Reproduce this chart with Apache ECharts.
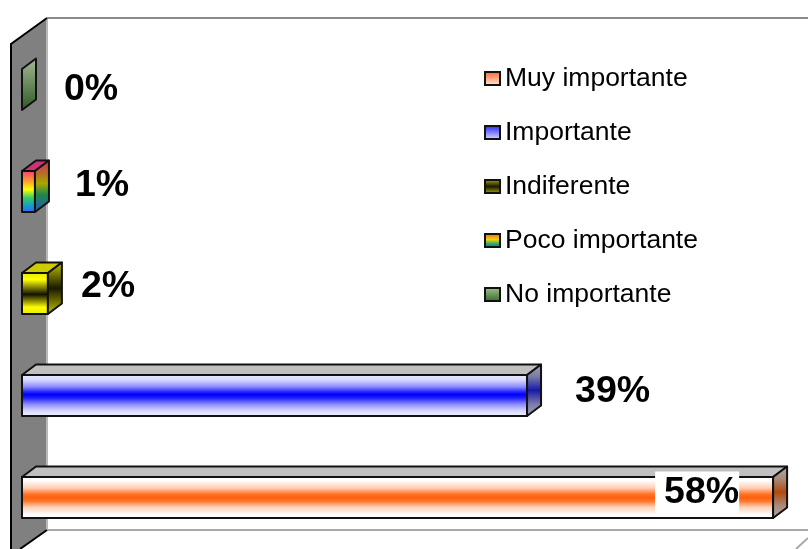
<!DOCTYPE html>
<html><head><meta charset="utf-8">
<style>html,body{margin:0;padding:0;background:#fff}#c{width:808px;height:549px}</style>
<script src="https://cdn.jsdelivr.net/npm/echarts@6/dist/echarts.min.js"></script>
</head><body><div id="c"></div>
<script>
const categories = ['Muy importante','Importante','Indiferente','Poco importante','No importante'];
const values = [58,39,2,1,0];
const valueLabels = ['58%','39%','2%','1%','0%'];

const FONT = '"Liberation Sans", Arial, sans-serif';
const DX = 14, DY = -10.5, BAR_H = 41;
const v = (stops) => new echarts.graphic.LinearGradient(0,0,0,1,stops.map(s=>({offset:s[0],color:s[1]})));
const front = [
  v([[0,'#ffffff'],[0.1,'#ffffff'],[0.28,'#ffcfb4'],[0.42,'#ff7428'],[0.5,'#ff6010'],[0.58,'#ff7428'],[0.72,'#ffcfb4'],[0.9,'#ffffff'],[1,'#ffffff']]),
  v([[0,'#eeeeff'],[0.14,'#d8d8ff'],[0.3,'#8a8aff'],[0.42,'#2020ff'],[0.48,'#0000ff'],[0.56,'#2020ff'],[0.7,'#8a8aff'],[0.86,'#d8d8ff'],[1,'#f4f4ff']]),
  v([[0,'#e8e800'],[0.18,'#ffff00'],[0.52,'#111100'],[0.82,'#ffff00'],[1,'#e8e800']]),
  v([[0,'#ff3377'],[0.25,'#ff9933'],[0.45,'#ffff00'],[0.65,'#33cc66'],[0.85,'#1199cc'],[1,'#3366ff']]),
  v([[0,'#a8b898'],[1,'#2a5a20']])
];
const side = [
  v([[0,'#b0aca8'],[0.25,'#aa8a78'],[0.5,'#b04a10'],[0.75,'#aa8a78'],[1,'#b0aca8']]),
  v([[0,'#a8a8b4'],[0.25,'#7878a8'],[0.5,'#1818a8'],[0.75,'#7878a8'],[1,'#a8a8b4']]),
  v([[0,'#c8c800'],[0.5,'#1a1a00'],[1,'#c8c800']]),
  v([[0,'#cc2a60'],[0.25,'#b86a28'],[0.45,'#a8a800'],[0.65,'#228844'],[1,'#2255cc']]),
  v([[0,'#a8b898'],[1,'#2a5a20']])
];
const legendFill = [
  v([[0,'#ff6020'],[1,'#ffeee4']]),
  v([[0,'#2020ff'],[1,'#e0e0ff']]),
  v([[0,'#b0b000'],[0.5,'#1a1a00'],[1,'#b0b000']]),
  v([[0,'#ff5030'],[0.45,'#e8d800'],[0.75,'#20a080'],[1,'#2060e0']]),
  v([[0,'#a8c090'],[1,'#2f6a28']])
];
const topFill = ['#c0c0c0','#c0c0c0','#cccc00','#cc3377','#a8b898'];
const labelOffset = [[-118,-5],[48,-4],[33,-7],[40,-6],[42,0]];
const labelBg = ['#ffffff',null,null,null,null];

function renderBar(idx){
  return function(params, api){
    const base = api.coord([0, api.value(1)]);
    const end = api.coord([api.value(0), api.value(1)]);
    const x0 = base[0], x1 = end[0], yc = end[1];
    const t = yc - BAR_H/2, b = yc + BAR_H/2;
    const line = {stroke:'#111111', lineWidth:2, lineJoin:'round'};
    const kids = [];
    const poly = (pts, fill) => ({type:'polygon', shape:{points:pts}, style:Object.assign({fill}, line)});
    if (x1 > x0) {
      kids.push(poly([[x0,t],[x0+DX,t+DY],[x1+DX,t+DY],[x1,t]], topFill[idx]));
      kids.push({type:'rect', shape:{x:x0,y:t,width:x1-x0,height:BAR_H}, style:Object.assign({fill:front[idx]}, line)});
    }
    kids.push(poly([[x1,t],[x1+DX,t+DY],[x1+DX,b+DY],[x1,b]], side[idx]));
    const off = labelOffset[idx];
    const textStyle = {
      text: valueLabels[idx], x: x1+off[0], y: yc+off[1], align:'left', verticalAlign:'middle',
      font: 'bold 37.5px '+FONT, fill:'#000000'
    };
    if (labelBg[idx]) { textStyle.backgroundColor = labelBg[idx]; textStyle.padding = [3,0,0,9]; textStyle.lineHeight = 39; }
    kids.push({type:'text', z2:10, style:textStyle});
    return {type:'group', children:kids};
  };
}

const chart = echarts.init(document.getElementById('c'), null, {renderer:'canvas'});
chart.setOption({
  animation:false,
  backgroundColor:'#ffffff',
  grid:{left:22,right:9,top:38.5,bottom:0.5},
  xAxis:{type:'value',min:0,max:60,show:false},
  yAxis:{type:'category',data:categories,show:false},
  legend:{
    orient:'vertical', left:484, top:65, padding:0, itemGap:27, itemWidth:15, itemHeight:13, icon:'rect',
    selectedMode:false,
    data:categories,
    textStyle:{fontFamily:FONT,fontSize:26.5,color:'#000000'},
    itemStyle:{borderColor:'#111111',borderWidth:2}
  },
  graphic:[
    {type:'polyline',z:0,shape:{points:[[47,18],[808,18]]},style:{stroke:'#8a8a8a',lineWidth:2,fill:null}},
    {type:'polyline',z:0,shape:{points:[[47,530],[808,530]]},style:{stroke:'#a8a8a8',lineWidth:2,fill:null}},
    {type:'polyline',z:0,shape:{points:[[796,549],[808,538]]},style:{stroke:'#a8a8a8',lineWidth:2,fill:null}},
    {type:'polygon',z:0,shape:{points:[[11,44],[47,18],[47,530],[20,549],[11,549]]},style:{fill:'#808080'}},
    {type:'polyline',z:0,shape:{points:[[47,18],[47,530]]},style:{stroke:'#b8b8b8',lineWidth:2,fill:null}},
    {type:'polyline',z:0,shape:{points:[[11,549],[11,44],[47,18]]},style:{stroke:'#000000',lineWidth:2,fill:null}},
    {type:'polyline',z:0,shape:{points:[[47,530],[20,549]]},style:{stroke:'#000000',lineWidth:2,fill:null}}
  ],
  series: categories.map((name,i)=>({
    type:'custom', name, clip:false, z:3,
    coordinateSystem:'cartesian2d',
    encode:{x:0,y:1},
    itemStyle:{color:legendFill[i]},
    data:[[values[i], name]],
    renderItem: renderBar(i)
  }))
});
</script></body></html>
